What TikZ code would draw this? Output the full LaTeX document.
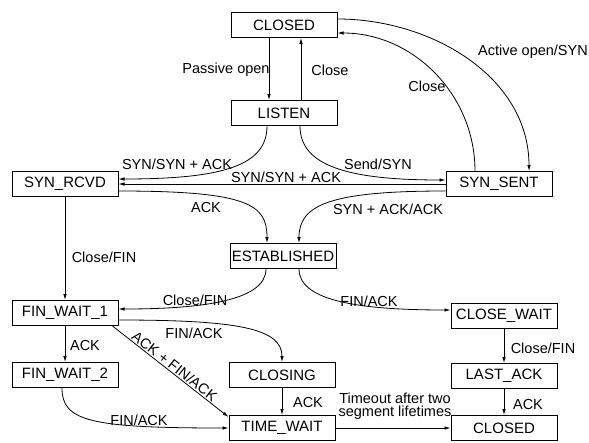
\documentclass[tikz,border=0pt]{standalone}
\usepackage{fontspec}
\setmainfont{Liberation Sans}
\usetikzlibrary{arrows.meta}

\begin{document}
\begin{tikzpicture}[x=1pt,y=-1pt,
    state/.style={draw,line width=1pt,minimum width=106pt,minimum height=25pt,
      inner sep=0pt,font=\fontsize{15}{17}\selectfont},
    lbl/.style={inner sep=0pt,font=\fontsize{14.5}{12.5}\selectfont},
    edge/.style={line width=0.8pt,-{Latex[length=6pt,width=3.5pt]}}]
	\useasboundingbox (0,0) rectangle (589,442);
	% states
	\node[state] (closedA) at (284,25) {CLOSED};
	\node[state] (listen) at (284,113) {LISTEN};
	\node[state] (synrcvd) at (65,184) {SYN\_RCVD};
	\node[state] (synsent) at (499,184) {SYN\_SENT};
	\node[state] (estab) at (283,256) {ESTABLISHED};
	\node[state] (finwaita) at (65,313) {FIN\_WAIT\_1};
	\node[state] (closewait) at (504,316) {CLOSE\_WAIT};
	\node[state] (finwaitb) at (65,375) {FIN\_WAIT\_2};
	\node[state] (closing) at (282,375) {CLOSING};
	\node[state] (lastack) at (504,376) {LAST\_ACK};
	\node[state] (timewait) at (282,428) {TIME\_WAIT};
	\node[state] (closedB) at (504,428) {CLOSED};
	% open
	\draw[edge] ([xshift=-15pt]closedA.south) -- ([xshift=-15pt]listen.north);
	\draw[edge] ([xshift=17pt]listen.north) -- ([xshift=17pt]closedA.south);
	\draw[edge] ([yshift=6pt]closedA.east) .. controls +(94,0) and +(0,-94) .. ([xshift=30pt]synsent.north);
	\draw[edge] ([xshift=-24pt]synsent.north) .. controls +(0,-76) and +(76,0) .. ([yshift=-8pt]closedA.east);
	\draw[edge] ([xshift=-17pt]listen.south) .. controls +(0,39) and +(106,0) .. ([yshift=5pt]synrcvd.east);
	\draw[edge] ([xshift=16pt]listen.south) .. controls +(0,39) and +(-100,0) .. ([yshift=4pt]synsent.west);
	\draw[edge] (synsent.west) -- (synrcvd.east);
	\draw[edge] ([yshift=-7pt]synrcvd.east) .. controls +(131,0) and +(0,-38) .. ([xshift=-16pt]estab.north);
	\draw[edge] ([yshift=-7pt]synsent.west) .. controls +(-116,0) and +(0,-38) .. ([xshift=16pt]estab.north);
	% close
	\draw[edge] (synrcvd.south) -- (finwaita.north);
	\draw[edge] ([xshift=-17pt]estab.south) .. controls +(0,32) and +(82,0) .. ([yshift=4pt]finwaita.east);
	\draw[edge] ([xshift=16pt]estab.south) .. controls +(0,32) and +(-91,0) .. ([yshift=6pt]closewait.west);
	\draw[edge] ([yshift=-7pt]finwaita.east) .. controls +(122,0) and +(0,-33) .. (closing.north);
	\draw[edge] ([xshift=-6pt]finwaita.south east) -- ([yshift=-2pt]timewait.north west)
		node[lbl,midway,sloped,above=1pt] (lDiag) {ACK + FIN/ACK};
	\draw[edge] (finwaita.south) -- (finwaitb.north);
	\draw[edge] ([xshift=-3pt]finwaitb.south) .. controls +(0,33) and +(-139,0) .. (timewait.west);
	\draw[edge] (closing.south) -- (timewait.north);
	\draw[edge] (timewait.east) -- (closedB.west);
	\draw[edge] (closewait.south) -- (lastack.north);
	\draw[edge] (lastack.south) -- (closedB.north);
	% labels
	\node[lbl] (lPassive) at (226,70) {Passive open};
	\node[lbl] (lCloseA) at (330,70) {Close};
	\node[lbl] (lActive) at (533,52) {Active open/SYN};
	\node[lbl] (lCloseB) at (427,86) {Close};
	\node[lbl] (lSynA) at (177,164) {SYN/SYN + ACK};
	\node[lbl] (lSend) at (378,164) {Send/SYN};
	\node[lbl] (lSynB) at (286,177) {SYN/SYN + ACK};
	\node[lbl] (lAckA) at (206,208) {ACK};
	\node[lbl] (lSynAck) at (388,209) {SYN + ACK/ACK};
	\node[lbl] (lFinA) at (104,257) {Close/FIN};
	\node[lbl] (lFinB) at (195,300) {Close/FIN};
	\node[lbl] (lFinAckA) at (369,301) {FIN/ACK};
	\node[lbl] (lFinAckB) at (194,333) {FIN/ACK};
	\node[lbl] (lAckB) at (85,346) {ACK};
	\node[lbl] (lFinAckC) at (139,420) {FIN/ACK};
	\node[lbl] (lAckC) at (308,403) {ACK};
	\node[lbl,align=center] (lTimeout) at (395,406) {Timeout after two\\segment lifetimes};
	\node[lbl] (lFinC) at (543,348) {Close/FIN};
	\node[lbl] (lAckD) at (528,405) {ACK};
\end{tikzpicture}
\end{document}
